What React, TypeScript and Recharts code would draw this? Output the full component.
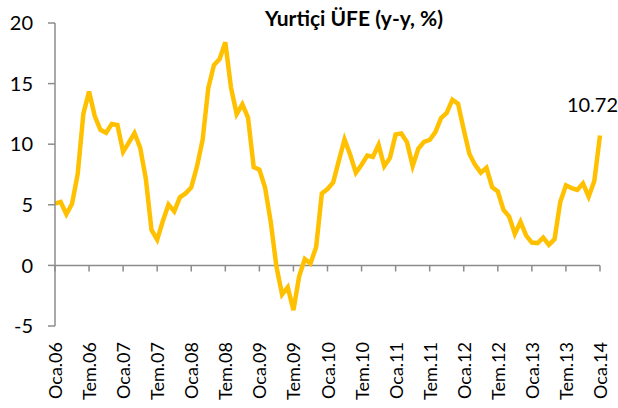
import { Line, LineChart, ReferenceLine, XAxis, YAxis } from "recharts";

// Yurtiçi ÜFE, yıllık % değişim (Ocak 2006 - Ocak 2014)
const ufe2006 = [5.1, 5.24, 4.22, 5.08, 7.54, 12.52, 14.34, 12.32, 11.19, 10.94, 11.66, 11.58];
const ufe2007 = [9.37, 10.13, 10.92, 9.71, 7.14, 2.92, 2.12, 3.66, 5.03, 4.46, 5.62, 5.94];
const ufe2008 = [6.43, 8.15, 10.35, 14.63, 16.53, 17.03, 18.41, 14.67, 12.49, 13.29, 12.2, 8.11];
const ufe2009 = [7.9, 6.43, 3.6, -0.09, -2.4, -1.8, -3.7, -0.92, 0.52, 0.15, 1.52, 5.93];
const ufe2010 = [6.3, 6.85, 8.64, 10.4, 9.13, 7.64, 8.3, 9.06, 8.96, 9.95, 8.18, 8.87];
const ufe2011 = [10.8, 10.89, 10.17, 8.21, 9.63, 10.19, 10.35, 11.0, 12.15, 12.58, 13.67, 13.33];
const ufe2012 = [11.2, 9.19, 8.29, 7.65, 8.05, 6.45, 6.1, 4.58, 4.03, 2.6, 3.6, 2.45];
const ufe2013 = [1.88, 1.84, 2.3, 1.7, 2.17, 5.23, 6.61, 6.38, 6.23, 6.77, 5.67, 6.97];
const ufe2014 = [10.72];

const aylar = ["Oca", "Şub", "Mar", "Nis", "May", "Haz", "Tem", "Ağu", "Eyl", "Eki", "Kas", "Ara"];
const yillar = ["06", "07", "08", "09", "10", "11", "12", "13", "14"];
const yTicks = [-5, 0, 5, 10, 15, 20];

const values = [...ufe2006, ...ufe2007, ...ufe2008, ...ufe2009, ...ufe2010, ...ufe2011, ...ufe2012, ...ufe2013, ...ufe2014];
const categories = yillar.flatMap((y) => aylar.map((a) => `${a}.${y}`)).slice(0, values.length);
const data = categories.map((ay, i) => ({ ay, ufe: values[i] }));
const tickCats = categories.filter((_, i) => i % 6 === 0);

const FONT = "Lato, 'Noto Sans', sans-serif";
const AXIS = "#8c8c8c";

function XTick({ x, y, payload }: any) {
  return (
    <text
      x={x + 7}
      y={y}
      transform={`rotate(-90, ${x + 7}, ${y})`}
      textAnchor="end"
      fontSize={18}
      fontFamily={FONT}
      fill="#000"
    >
      {payload.value}
    </text>
  );
}

function LastLabel({ x, y, index, value }: any) {
  if (index !== values.length - 1) return null;
  return (
    <text x={x + 18} y={y - 23} textAnchor="end" fontSize={20} fontFamily={FONT} fill="#000">
      {value}
    </text>
  );
}

export default function App() {
  return (
    <div style={{ position: "relative", width: 618, height: 408, background: "#fff" }}>
      <style>{"body{margin:0}"}</style>
      <LineChart width={618} height={408} data={data} margin={{ top: 23, right: 18, left: 0, bottom: 0 }}>
        <XAxis
          dataKey="ay"
          interval={5}
          axisLine={false}
          tickLine={false}
          tickSize={0}
          tickMargin={16}
          height={82}
          tick={<XTick />}
        />
        <YAxis
          domain={[-5, 20]}
          ticks={yTicks}
          width={55}
          axisLine={{ stroke: AXIS, strokeWidth: 1.5 }}
          tickLine={{ stroke: AXIS, strokeWidth: 1.5 }}
          tickSize={7}
          tickMargin={15}
          tick={{ fontSize: 20, fontFamily: FONT, fill: "#000" }}
        />
        <ReferenceLine y={0} stroke={AXIS} strokeWidth={1.5} />
        {tickCats.map((c) => (
          <ReferenceLine
            key={c}
            segment={[
              { x: c, y: 0 },
              { x: c, y: -0.5 },
            ]}
            stroke={AXIS}
            strokeWidth={1.5}
          />
        ))}
        <Line
          type="linear"
          dataKey="ufe"
          stroke="#FFC000"
          strokeWidth={4.5}
          dot={false}
          isAnimationActive={false}
          label={<LastLabel />}
        />
      </LineChart>
      <svg width={618} height={40} style={{ position: "absolute", left: 0, top: 0, pointerEvents: "none" }}>
        <text x={354} y={26} textAnchor="middle" fontSize={21} fontWeight="bold" fontFamily={FONT} fill="#000">
          Yurtiçi ÜFE (y-y, %)
        </text>
      </svg>
    </div>
  );
}
